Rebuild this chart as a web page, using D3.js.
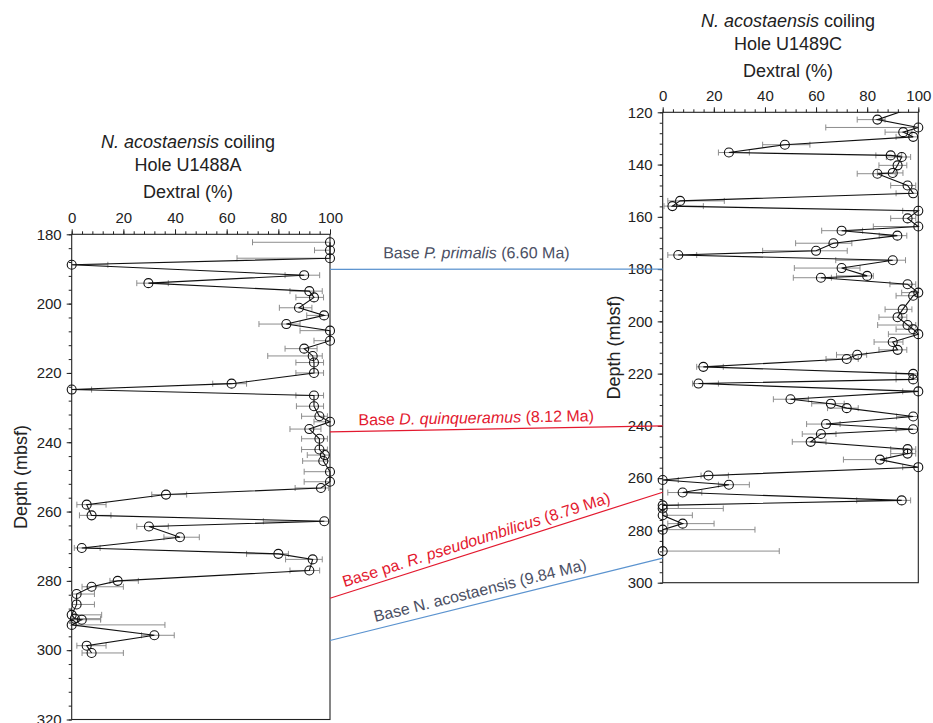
<!DOCTYPE html>
<html><head><meta charset="utf-8">
<script src="https://cdn.jsdelivr.net/npm/d3@7"></script>
<style>
body{margin:0;background:#fff;}
svg{display:block;font-family:"Liberation Sans",Arial,Helvetica,sans-serif;}
</style></head><body>
<svg id="c" width="933" height="723"></svg>
<script>
// ---------- Data: Hole U1488A ----------
const leftDepth   = [182.3,184.6,186.9,188.8,191.8,194.1,196.4,198.2,201.2,203.4,205.9,207.8,210.7,213.0,215.1,217.0,220.0,223.1,224.8,226.5,229.6,232.5,234.1,236.2,239.0,242.1,243.7,245.4,248.5,251.4,253.2,255.1,258.0,261.1,262.8,264.3,267.4,270.5,272.2,273.8,277.0,280.0,281.7,283.8,286.8,289.8,290.9,291.2,292.7,295.7,298.7,300.8];
const leftDextral = [100,100,100,0,90,29.7,92,93.8,88,97.7,83.1,100,100,90,93.3,93.8,93.8,61.9,0,93.8,93.8,95.9,100,92,95.9,95.9,98,97.4,100,100,96.5,36.5,5.8,7.7,97.8,29.9,41.9,3.9,80,93.3,92,17.8,7.7,1.9,1.9,0,1.2,3.9,0,32,5.8,7.7];
const leftLow     = [70,94,64,0,82.6,25.2,84.5,86.8,80.4,91,72.5,88.4,93.8,82.6,75.9,86.8,86.8,54.6,0,86.8,87,89,93.8,84.5,89,89,91.2,89.4,90,90,86.5,31,2,3,74.2,25.2,35.7,1,67.7,82.8,84.5,14.8,4,0,0,0,0,0,0,27,2,4];
const leftHigh    = [100,100,100,14,96,37.4,97,97.5,93,100,88.4,100,100,95,97,97.5,97.5,67.7,7.7,97.5,97.5,99,100,96.5,99,99,100,100,100,100,99.5,44.5,13.3,15.2,100,37.4,49.4,11,83.9,97,96,25.8,20,8.8,8.8,11.6,11.2,11.2,36.1,39.7,13.3,20];

// ---------- Data: Hole U1489C ----------
const rightDepth   = [117.5,122.8,125.8,127.6,129.4,132.4,135.4,136.5,137.1,140.3,143.2,143.5,148.0,151.0,153.9,155.9,157.7,160.6,163.7,165.3,167.2,170.1,173.0,174.6,176.6,179.6,182.6,183.3,185.8,189.0,190.2,195.4,198.4,201.4,203.0,204.9,207.9,210.9,212.8,214.4,217.4,220.1,222.2,223.8,226.8,229.8,231.5,233.2,236.4,239.3,241.3,243.1,246.1,248.9,250.6,252.9,255.8,259.0,260.7,262.5,265.5,268.5,270.4,271.6,274.2,277.4,279.7,287.9];
const rightDextral = [100,84,100,94.1,98,47.8,25.9,89.2,93.5,91.9,90,84,95.8,98,6.8,3.8,100,95.8,100,70,91.8,66.8,60,6.1,90,70,80,61.9,95.8,100,98,93.9,91.9,95.8,98,100,90,91.9,76.1,72,15.9,98,98,14,100,50,65.8,72,98,63.9,98,61.9,57.9,95.8,95.8,85,100,17.9,0,25.9,7.8,93.5,0,0,0,7.8,0,0];
const rightLow     = [88,76.1,63.8,87,91.3,39.1,21.8,83.4,87.5,84.6,84,76.1,89.2,91.3,2,0.5,93.9,89.2,82.4,62.2,84.7,52,39.1,2,67.7,51.5,68,51.1,88.9,93.5,91.3,87,84.6,84.1,91.3,88.3,82.7,84.6,68,63.9,13.3,91.3,91.3,11.7,93.9,43.3,58.3,64.5,91.5,56.3,91.3,54.6,50.7,89.2,89.2,70.7,93.9,15,0,21.8,2,75.9,0,0,0,2,0,0];
const rightHigh    = [100,87,100,97.5,100,57.6,33.9,93.5,97,95.5,94,91,99,100,24.1,15.9,100,99,100,78.2,95.5,74,72.2,13.3,95,77.2,82.4,66,99,100,100,97.5,95.5,99,100,100,94,95.5,79.8,76.5,23.7,100,100,21.8,100,57,71,76.5,100,69.4,100,67.8,63.9,99,99,87.6,100,25.7,6.1,33.9,15.3,97,6.1,23.7,11.6,20.1,36.1,45.6];

// ---------- Data: correlation datums ----------
const datumNames  = ["Base |P. primalis| (6.60 Ma)","Base |D. quinqueramus| (8.12 Ma)","Base pa. |R. pseudoumbilicus| (8.79 Ma)","Base N. acostaensis (9.84 Ma)"];
const datumLeft   = [190.1, 237.0, 285.0, 297.2];
const datumRight  = [180.0, 240.0, 265.4, 290.6];
const datumType   = ["blue","red","red","blue"];

const xTicks = [0,20,40,60,80,100];

// ---------- Layout ----------
const svg = d3.select("#c");
const colLine = {blue:"#5b93cf", red:"#e3192f"};
const colText = {blue:"#4b5064", red:"#e3192f"};

const L = {x: d3.scaleLinear([0,100],[71.7,330]), y: d3.scaleLinear([180,320],[234.3,719.5]),
  yTicks: d3.range(180,321,20), yMinor: d3.range(180,321,4),
  depth: leftDepth, val: leftDextral, lo: leftLow, hi: leftHigh,
  titleX: 188, t1: 148, t2: 171, t3: 198, hole:"Hole U1488A", depthLabX: 27, id:"L"};
const R = {x: d3.scaleLinear([0,100],[662.7,918.3]), y: d3.scaleLinear([120,300],[112.3,582.7]),
  yTicks: d3.range(120,301,20), yMinor: d3.range(120,301,4),
  depth: rightDepth, val: rightDextral, lo: rightLow, hi: rightHigh,
  titleX: 788, t1: 27, t2: 50, t3: 77, hole:"Hole U1489C", depthLabX: 620, id:"R"};

const defs = svg.append("defs");

function panel(P){
  const [x0,x1] = P.x.range(), [y0,y1] = P.y.range();
  defs.append("clipPath").attr("id","clip"+P.id).append("rect")
    .attr("x",x0-20).attr("y",y0).attr("width",x1-x0+40).attr("height",y1-y0);
  const g = svg.append("g");
  // titles
  const t = g.append("text").attr("x",P.titleX).attr("y",P.t1).attr("text-anchor","middle")
    .attr("font-size",18).attr("fill","#222");
  t.append("tspan").attr("font-style","italic").text("N. acostaensis");
  t.append("tspan").text(" coiling");
  g.append("text").attr("x",P.titleX).attr("y",P.t2).attr("text-anchor","middle")
    .attr("font-size",18).attr("fill","#222").text(P.hole);
  g.append("text").attr("x",P.titleX).attr("y",P.t3).attr("text-anchor","middle")
    .attr("font-size",18).attr("fill","#222").text("Dextral (%)");
  g.append("text").attr("transform",`translate(${P.depthLabX},${(y0+y1)/2}) rotate(-90)`)
    .attr("text-anchor","middle").attr("font-size",18).attr("fill","#222").text("Depth (mbsf)");

  // axes
  const ax = g.append("g").attr("transform",`translate(0,${y0})`)
    .call(d3.axisTop(P.x).tickValues(d3.range(0,101,4)).tickSize(3).tickFormat(""));
  ax.select(".domain").remove();
  const axM = g.append("g").attr("transform",`translate(0,${y0})`)
    .call(d3.axisTop(P.x).tickValues(xTicks).tickSize(5).tickPadding(6).tickFormat(d3.format("d")));
  axM.select(".domain").remove();
  axM.selectAll("text").attr("font-size",15).attr("fill","#222").attr("font-family",null);
  const ay = g.append("g").attr("transform",`translate(${x0},0)`)
    .call(d3.axisLeft(P.y).tickValues(P.yMinor).tickSize(3).tickFormat(""));
  ay.select(".domain").remove();
  const ayM = g.append("g").attr("transform",`translate(${x0},0)`)
    .call(d3.axisLeft(P.y).tickValues(P.yTicks).tickSize(5).tickPadding(5).tickFormat(d3.format("d")));
  ayM.select(".domain").remove();
  ayM.selectAll("text").attr("font-size",15).attr("fill","#222").attr("font-family",null);
  g.selectAll(".tick line").attr("stroke","#222");
  g.append("rect").attr("x",x0).attr("y",y0).attr("width",x1-x0).attr("height",y1-y0)
    .attr("fill","none").attr("stroke","#222").attr("stroke-width",1.1);

  const pts = P.depth.map((d,i)=>({d, v:P.val[i], lo:P.lo[i], hi:P.hi[i]}));
  const dg = g.append("g").attr("clip-path",`url(#clip${P.id})`);
  // error bars
  const eb = dg.append("g").attr("stroke","#8d8d8d").attr("stroke-width",1);
  pts.forEach(p=>{
    const yy = P.y(p.d);
    eb.append("line").attr("x1",P.x(p.lo)).attr("x2",P.x(p.hi)).attr("y1",yy).attr("y2",yy);
    [p.lo,p.hi].forEach(e=>{
      if (e!==p.v) eb.append("line").attr("x1",P.x(e)).attr("x2",P.x(e)).attr("y1",yy-3).attr("y2",yy+3);
    });
  });
  // line
  dg.append("path").datum(pts).attr("fill","none").attr("stroke","#111").attr("stroke-width",1.1)
    .attr("d", d3.line().x(p=>P.x(p.v)).y(p=>P.y(p.d)));
  // circles
  dg.selectAll("circle").data(pts).join("circle")
    .attr("cx",p=>P.x(p.v)).attr("cy",p=>P.y(p.d)).attr("r",4.5)
    .attr("fill","none").attr("stroke","#111").attr("stroke-width",1.1);
}
panel(L); panel(R);

// correlation lines
const labelT = [0.44, 0.44, 0.45, 0.46];
const labelOff = [11, 6, 6, 7];
datumNames.forEach((name,i)=>{
  const xa = L.x(100), ya = L.y(datumLeft[i]);
  const xb = R.x(0), yb = R.y(datumRight[i]);
  svg.append("line").attr("x1",xa).attr("y1",ya).attr("x2",xb).attr("y2",yb)
    .attr("stroke",colLine[datumType[i]]).attr("stroke-width",1.2);
  const ang = Math.atan2(yb-ya, xb-xa);
  const t = labelT[i];
  const cx = xa + (xb-xa)*t, cy = ya + (yb-ya)*t;
  const px = cx + Math.sin(ang)*labelOff[i], py = cy - Math.cos(ang)*labelOff[i];
  const tx = svg.append("text").attr("text-anchor","middle").attr("font-size",16)
    .attr("fill",colText[datumType[i]])
    .attr("transform",`translate(${px},${py}) rotate(${ang*180/Math.PI})`);
  name.split("|").forEach((s,k)=>{
    tx.append("tspan").attr("font-style", k===1 ? "italic" : null).text(s);
  });
});
</script>
</body></html>
